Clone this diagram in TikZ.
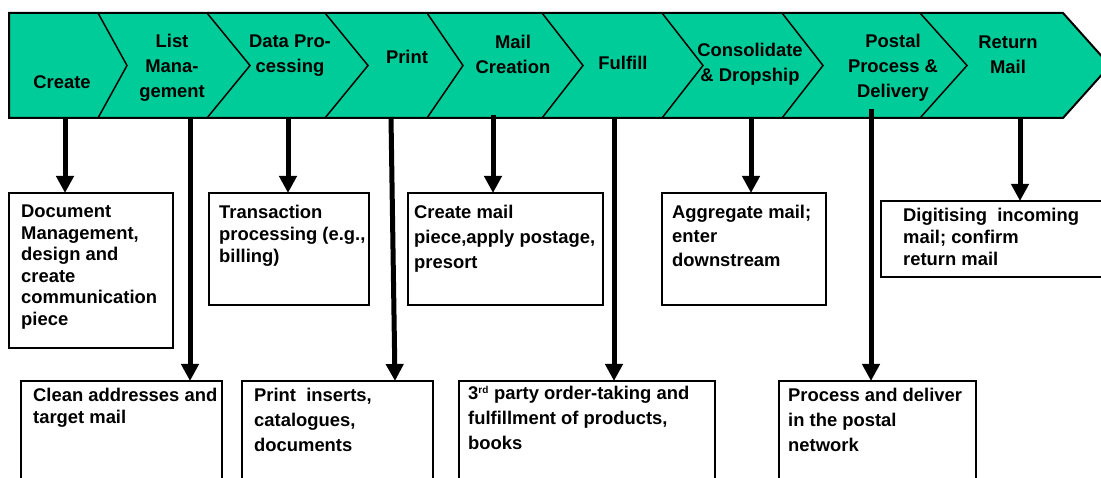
\documentclass[tikz,border=0pt]{standalone}
\usepackage{fontspec}
\setmainfont{Liberation Sans}
\usetikzlibrary{arrows.meta}
\definecolor{stripgreen}{RGB}{0,204,153}
\begin{document}
\begin{tikzpicture}[x=1pt,y=-1pt,
  stage/.style={align=center,inner sep=0pt,font=\fontsize{18.4}{25}\selectfont\bfseries},
  infobox/.style={draw,line width=1.6pt,anchor=north west,inner sep=0pt,outer sep=0pt},
  boxtext/.style={anchor=north west,align=left,inner sep=0pt,font=\fontsize{18.4}{#1}\selectfont\bfseries},
  boxtext/.default=22,
  flowarrow/.style={line width=5pt,-{Triangle[width=17pt,length=17pt]}},
  chevline/.style={line width=1.5pt,line join=miter}]
\useasboundingbox (0,0) rectangle (1101,478);
\clip (0,0) rectangle (1101,478);
% strip
\fill[stripgreen] (9,13) -- (1063,13) -- (1110,65.5) -- (1063,118) -- (9,118) -- cycle;
\foreach \t/\p in {98/127,207/250,325/368,427/463,542/583,662/703,782/823,920/967}
  \draw[chevline] (\t,13) -- (\p,65.5) -- (\t,118);
\draw[line width=2pt,line join=miter] (9,13) -- (1063,13) -- (1110,65.5) -- (1063,118) -- (9,118) -- cycle;
% stage labels
\node[stage] (s1) at (62,82) {Create};
\node[stage] (s2) at (172,68) {List\\Mana-\\gement};
\node[stage] (s3) at (290,56) {Data Pro-\\cessing};
\node[stage] (s4) at (407,57) {Print};
\node[stage] (s5) at (513,54) {Mail\\Creation};
\node[stage] (s6) at (623,63) {Fulfill};
\node[stage] (s7) at (750,64) {Consolidate\\\& Dropship};
\node[stage] (s8) at (893,68) {Postal\\Process \&\\Delivery};
\node[stage] (s9) at (1008,55) {Return\\Mail};
% boxes
\node[infobox,minimum width=164pt,minimum height=155pt] (b1) at (9,193) {};
\node[infobox,minimum width=160pt,minimum height=112pt] (b2) at (209,193) {};
\node[infobox,minimum width=195pt,minimum height=112pt] (b3) at (408,193) {};
\node[infobox,minimum width=164pt,minimum height=112pt] (b4) at (662,193) {};
\node[infobox,minimum width=240pt,minimum height=76pt] (b5) at (881,201) {};
\node[infobox,minimum width=201pt,minimum height=130pt] (b6) at (21,381) {};
\node[infobox,minimum width=191pt,minimum height=130pt] (b7) at (242,381) {};
\node[infobox,minimum width=256pt,minimum height=130pt] (b8) at (459,381) {};
\node[infobox,minimum width=197pt,minimum height=130pt] (b9) at (779,381) {};
% box texts
\node[boxtext=21.5] (t1) at (21,205) {Document\\Management,\\design and\\create\\communication\\piece};
\node[boxtext=22] (t2) at (219,205) {Transaction\\processing (e.g.,\\billing)};
\node[boxtext=25] (t3) at (414,205) {Create mail\\piece,apply postage,\\presort};
\node[boxtext=24] (t4) at (672,205) {Aggregate mail;\\enter\\downstream};
\node[boxtext=22] (t5) at (903,208) {Digitising\ \ incoming\\mail; confirm\\return mail};
\node[boxtext=22] (t6) at (33,388) {Clean addresses and\\target mail};
\node[boxtext=25] (t7) at (254,388) {Print\ \ inserts,\\catalogues,\\documents};
\node[boxtext=25] (t8) at (468,386) {3\textsuperscript{\fontsize{10}{10}\selectfont rd} party order-taking and\\fulfillment of products,\\books};
\node[boxtext=25] (t9) at (788,388) {Process and deliver\\in the postal\\network};
% arrow starts
\coordinate (c1) at (65,117);
\coordinate (c2) at (190,117);
\coordinate (c3) at (288,117);
\coordinate (c4) at (391,117);
\coordinate (c5) at (493,115);
\coordinate (c6) at (614,117);
\coordinate (c7) at (751,117);
\coordinate (c8) at (871,109);
\coordinate (c9) at (1020,117);
\draw[flowarrow] (c1) -- (c1 |- b1.north);
\draw[flowarrow] (c2) -- (c2 |- b6.north);
\draw[flowarrow] (c3) -- (c3 |- b2.north);
\draw[flowarrow] (c4) -- ([xshift=4pt]c4 |- b7.north);
\draw[flowarrow] (c5) -- (c5 |- b3.north);
\draw[flowarrow] (c6) -- (c6 |- b8.north);
\draw[flowarrow] (c7) -- (c7 |- b4.north);
\draw[flowarrow] (c8) -- (c8 |- b9.north);
\draw[flowarrow] (c9) -- (c9 |- b5.north);
\end{tikzpicture}
\end{document}
